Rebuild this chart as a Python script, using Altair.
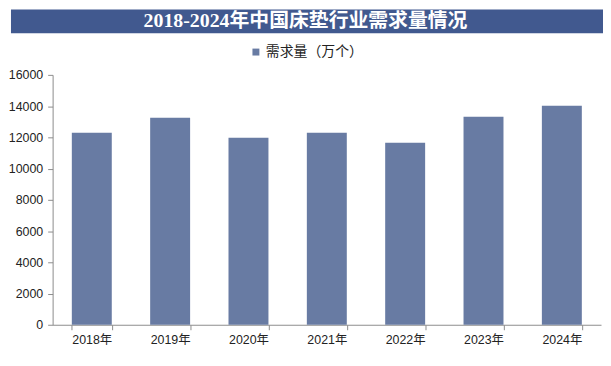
import altair as alt
import pandas as pd

years = ["2018年", "2019年", "2020年", "2021年", "2022年", "2023年", "2024年"]
demand = [12300, 13250, 11980, 12300, 11660, 13320, 14020]
series_name = "需求量（万个）"
title_text = "2018-2024年中国床垫行业需求量情况"
y_ticks = [0, 2000, 4000, 6000, 8000, 10000, 12000, 14000, 16000]

df = pd.DataFrame({"year": years, "value": demand, "series": series_name})
title_df = pd.DataFrame({"t": [title_text]})

W, H = 553, 252
LABEL_FONT = "Liberation Sans, Noto Sans CJK SC"

bars = alt.Chart(df).mark_bar().encode(
    x=alt.X(
        "year:N",
        sort=years,
        scale=alt.Scale(paddingInner=0.49, paddingOuter=0.245),
        axis=alt.Axis(
            title=None, labelAngle=0, tickBand="extent", tickSize=5,
            domainColor="#8c8c8c", tickColor="#8c8c8c", labelPadding=4,
        ),
    ),
    y=alt.Y(
        "value:Q",
        scale=alt.Scale(domain=[0, 16000], nice=False),
        axis=alt.Axis(
            title=None, values=y_ticks, grid=False, tickSize=5, format="d",
            domainColor="#8c8c8c", tickColor="#8c8c8c", labelPadding=5,
        ),
    ),
    color=alt.Color(
        "series:N",
        scale=alt.Scale(range=["#687BA3"]),
        legend=alt.Legend(
            title=None, orient="none", legendX=198, legendY=-30,
            symbolType="square", symbolSize=49, symbolStrokeWidth=0,
            labelFontSize=14, labelFont=LABEL_FONT, labelColor="#222222",
            labelOffset=3,
        ),
    ),
)

band = alt.Chart(title_df).mark_rect(color="#41598F").encode(
    x=alt.value(-42), x2=alt.value(555), y=alt.value(-66), y2=alt.value(-42)
)

title = alt.Chart(title_df).mark_text(
    color="white", fontSize=20, fontWeight="bold",
    font="Liberation Serif, Noto Sans CJK SC", baseline="middle", align="center",
).encode(x=alt.value(255), y=alt.value(-54), text="t:N")

chart = alt.layer(band, title, bars).properties(
    width=W, height=H, padding=0, background="white"
).configure_view(stroke=None).configure_axis(
    labelFont=LABEL_FONT, labelFontSize=12.5, labelColor="#222222"
)

chart.save("out.html", embed_options={"renderer": "svg", "actions": False})
